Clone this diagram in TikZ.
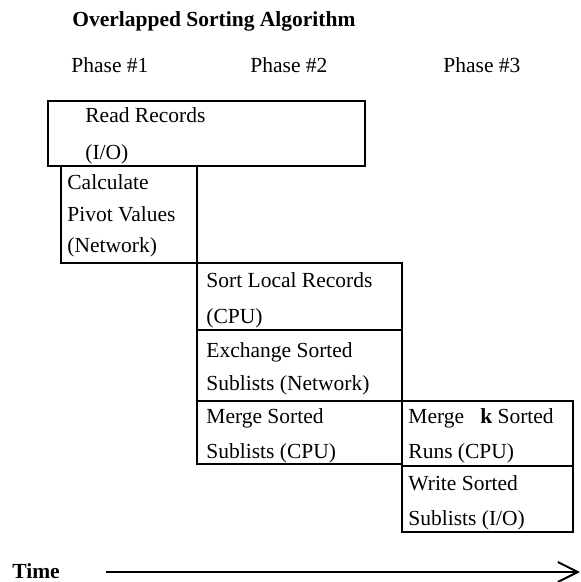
\documentclass[tikz,border=0pt]{standalone}
\usepackage{fontspec}
\setmainfont{Liberation Serif}
\usetikzlibrary{arrows.meta}

\tikzset{
  stepbox/.style={line width=1.4pt},
  lbl/.style={anchor=base west, inner sep=0pt, font=\fontsize{10.75}{13}\selectfont},
  hdr/.style={lbl, font=\fontsize{10.75}{13}\selectfont\bfseries},
  timeline/.style={line width=1pt, -{Straight Barb[length=10pt, width=10pt, line width=1pt]}}
}

\begin{document}
\begin{tikzpicture}[x=0.5pt, y=-0.5pt]
          \useasboundingbox (0, 0) rectangle (581, 582);

          \node[hdr] (title) at (72, 27) {Overlapped Sorting Algorithm};

          \node[lbl] (ph1) at (71, 73) {Phase \#1};
          \node[lbl] (ph2) at (250, 73) {Phase \#2};
          \node[lbl] (ph3) at (443, 73) {Phase \#3};

          % phase 1
          \draw[stepbox] (48, 101) rectangle (365, 166);
          \node[lbl] (read1) at (85, 123) {Read Records};
          \node[lbl] (read2) at (85, 160) {(I/O)};

          \draw[stepbox] (61, 166) rectangle (197, 263);
          \node[lbl] (pivot1) at (67, 190) {Calculate};
          \node[lbl] (pivot2) at (67, 222) {Pivot Values};
          \node[lbl] (pivot3) at (67, 253) {(Network)};

          % phase 2
          \draw[stepbox] (197, 263) rectangle (402, 330);
          \node[lbl] (sort1) at (206, 287) {Sort Local Records};
          \node[lbl] (sort2) at (206, 323) {(CPU)};

          \draw[stepbox] (197, 330) rectangle (402, 401);
          \node[lbl] (exch1) at (206, 357) {Exchange Sorted};
          \node[lbl] (exch2) at (206, 390) {Sublists (Network)};

          \draw[stepbox] (197, 401) rectangle (402, 464);
          \node[lbl] (merge1) at (206, 423) {Merge Sorted};
          \node[lbl] (merge2) at (206, 458) {Sublists (CPU)};

          % phase 3
          \draw[stepbox] (402, 401) rectangle (573, 466);
          \node[lbl] (mergek1) at (408, 423) {Merge \ \ \textbf{k} Sorted};
          \node[lbl] (mergek2) at (408, 458) {Runs (CPU)};

          \draw[stepbox] (402, 466) rectangle (573, 532);
          \node[lbl] (write1) at (408, 490) {Write Sorted};
          \node[lbl] (write2) at (408, 525) {Sublists (I/O)};

          % time axis
          \node[hdr] (time) at (12, 578) {Time};
          \coordinate (tstart) at (106, 572);
          \coordinate (tend) at (580, 572);
          \draw[timeline] (tstart) -- (tend);
        \end{tikzpicture}
\end{document}
